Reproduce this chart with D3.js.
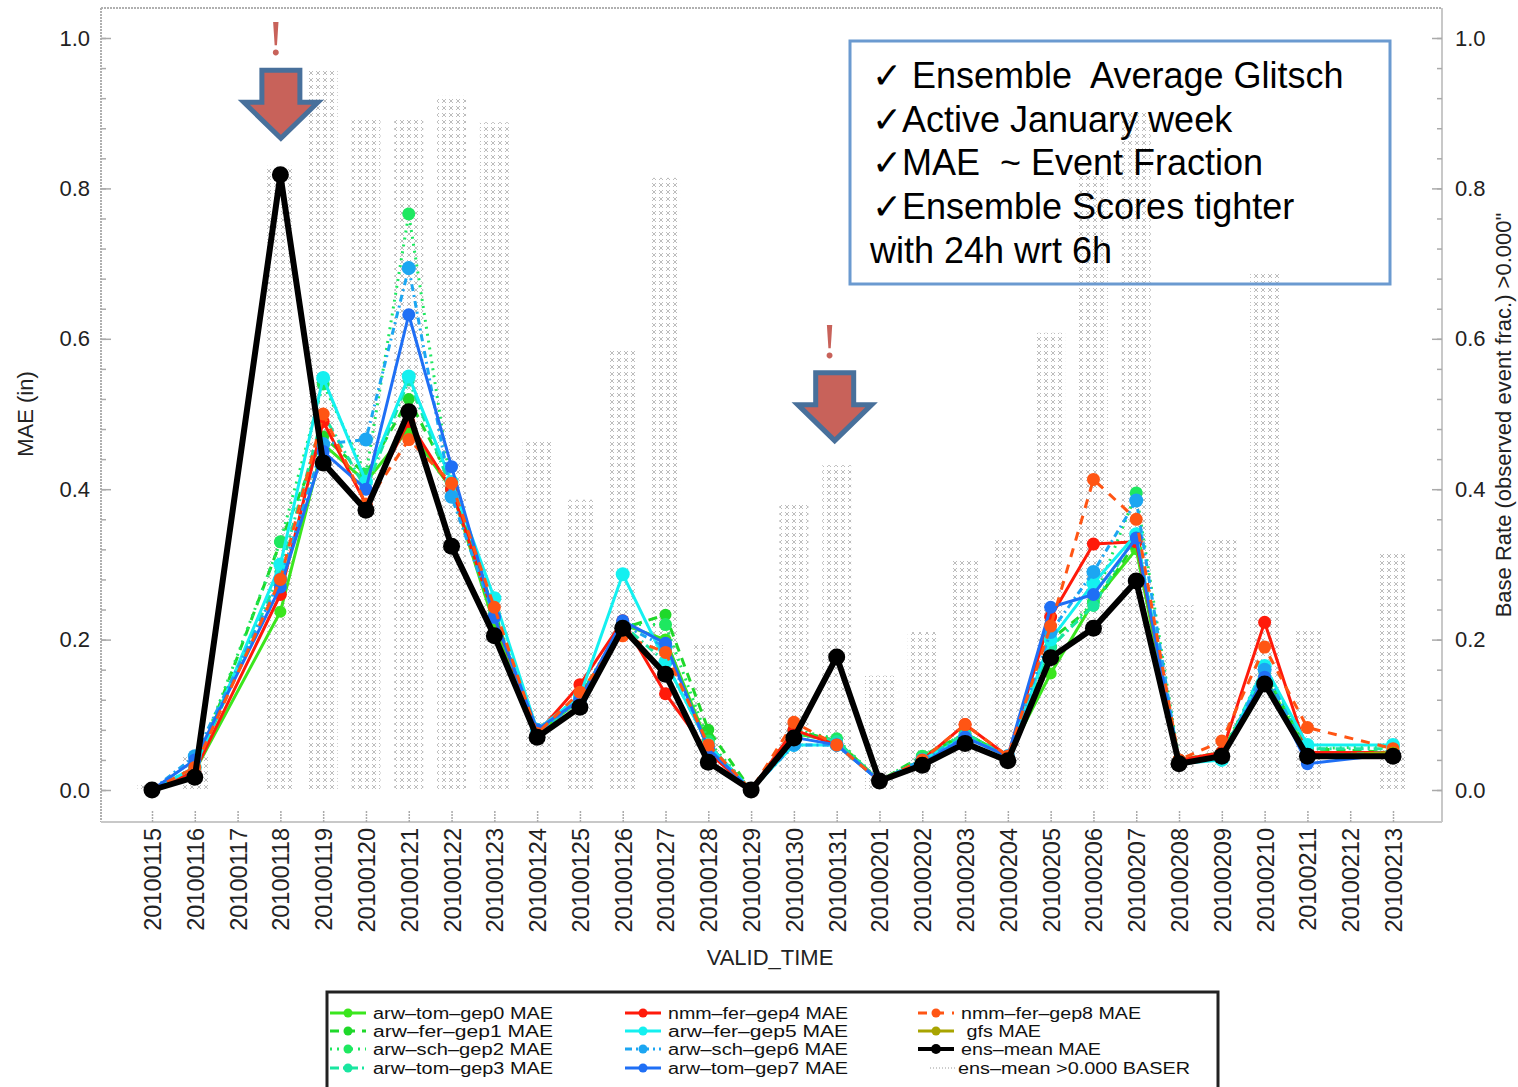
<!DOCTYPE html>
<html><head><meta charset="utf-8">
<script src="https://cdn.jsdelivr.net/npm/d3@7"></script>
<style>
html,body{margin:0;padding:0;background:#fff;}
svg{display:block;font-family:"Liberation Sans",Arial,Helvetica,sans-serif;}
text{white-space:pre;}
</style></head>
<body>
<svg id="chart" width="1518" height="1087"></svg>
<script>
const categories = ["20100115","20100116","20100117","20100118","20100119","20100120","20100121","20100122","20100123","20100124","20100125","20100126","20100127","20100128","20100129","20100130","20100131","20100201","20100202","20100203","20100204","20100205","20100206","20100207","20100208","20100209","20100210","20100211","20100212","20100213"];
const yTicks = [0, 0.2, 0.4, 0.6, 0.8, 1.0];

const baseRate = [0.01,0.045,null,0.83,0.957,0.894,0.894,0.923,0.888,0.463,0.386,0.586,0.814,0.193,null,0.379,0.432,0.152,0.21,0.305,0.336,0.608,0.82,0.904,0.246,0.336,0.69,0.215,null,0.315];

const gep0 = [0.0,0.025,null,0.237,0.46,0.41,0.48,0.40,0.22,0.075,0.12,0.22,0.20,0.06,0.0,0.075,0.065,0.012,0.04,0.075,0.045,0.155,0.25,0.32,0.035,0.05,0.15,0.05,null,0.05];
const gep1 = [0.0,0.025,null,0.33,0.47,0.42,0.52,0.41,0.235,0.075,0.125,0.215,0.233,0.08,0.0,0.08,0.065,0.012,0.045,0.075,0.045,0.20,0.245,0.33,0.04,0.05,0.155,0.055,null,0.05];
const gep2 = [0.0,0.03,null,0.33,0.54,0.42,0.766,0.40,0.23,0.08,0.125,0.22,0.22,0.065,0.0,0.08,0.068,0.012,0.045,0.075,0.045,0.19,0.25,0.395,0.04,0.05,0.16,0.055,null,0.058];
const gep3 = [0.0,0.028,null,0.29,0.50,0.40,0.545,0.40,0.235,0.075,0.12,0.22,0.17,0.06,0.0,0.075,0.065,0.012,0.04,0.075,0.045,0.19,0.245,0.34,0.04,0.045,0.165,0.055,null,0.055];
const gep4 = [0.0,0.025,null,0.26,0.49,0.38,0.49,0.40,0.23,0.075,0.14,0.225,0.128,0.05,0.0,0.08,0.06,0.012,0.04,0.087,0.045,0.23,0.327,0.33,0.04,0.05,0.223,0.05,null,0.05];
const gep5 = [0.0,0.03,null,0.30,0.548,0.41,0.55,0.41,0.255,0.08,0.125,0.287,0.17,0.06,0.0,0.06,0.06,0.012,0.04,0.07,0.045,0.20,0.275,0.34,0.035,0.04,0.165,0.06,null,0.06];
const gep6 = [0.0,0.045,null,0.28,0.46,0.466,0.694,0.39,0.23,0.075,0.12,0.22,0.19,0.055,0.0,0.06,0.06,0.012,0.04,0.07,0.045,0.21,0.29,0.385,0.035,0.045,0.16,0.045,null,0.05];
const gep7 = [0.0,0.04,null,0.27,0.45,0.40,0.632,0.43,0.23,0.08,0.12,0.225,0.195,0.055,0.0,0.07,0.06,0.012,0.035,0.07,0.045,0.243,0.26,0.335,0.035,0.045,0.15,0.035,null,0.048];
const gep8 = [0.0,0.03,null,0.28,0.50,0.38,0.466,0.408,0.243,0.075,0.13,0.205,0.183,0.06,0.0,0.09,0.06,0.012,0.04,0.087,0.045,0.218,0.413,0.36,0.04,0.065,0.19,0.083,null,0.055];
const gfs  = [null,null,null,null,null,null,null,null,null,null,null,null,null,null,null,null,null,null,null,null,null,null,null,null,null,null,null,0.045,null,0.05];
const ensMean = [0.0,0.017,null,0.818,0.435,0.372,0.503,0.324,0.205,0.07,0.11,0.215,0.154,0.037,0.0,0.069,0.177,0.012,0.033,0.062,0.039,0.176,0.215,0.278,0.035,0.045,0.141,0.045,null,0.045];

const seriesNames = ["arw\u2013tom\u2013gep0 MAE","arw\u2013fer\u2013gep1 MAE","arw\u2013sch\u2013gep2 MAE","arw\u2013tom\u2013gep3 MAE","nmm\u2013fer\u2013gep4 MAE","arw\u2013fer\u2013gep5 MAE","arw\u2013sch\u2013gep6 MAE","arw\u2013tom\u2013gep7 MAE","nmm\u2013fer\u2013gep8 MAE"," gfs MAE","ens\u2013mean MAE"];
const baseName = "ens\u2013mean >0.000 BASER";
const notes = ["\u2713 Ensemble  Average Glitsch","\u2713Active January week","\u2713MAE  ~ Event Fraction","\u2713Ensemble Scores tighter","with 24h wrt 6h"];

const seriesData = [gep0,gep1,gep2,gep3,gep4,gep5,gep6,gep7,gep8,gfs,ensMean];
const styles = [
  {c:"#3be61e", w:3, dash:null, r:6},
  {c:"#1fd82a", w:3, dash:"9,7", r:6},
  {c:"#1ee860", w:3, dash:"2,5", r:6.5},
  {c:"#19e6a0", w:3, dash:"9,4,2,4", r:6},
  {c:"#ff1a0a", w:3, dash:null, r:6.5},
  {c:"#14f0f0", w:3, dash:null, r:7},
  {c:"#1ca6f2", w:3, dash:"7,4,2,4", r:7},
  {c:"#1f6ff5", w:3, dash:null, r:6.5},
  {c:"#ff5514", w:3, dash:"9,8", r:6.5},
  {c:"#a8a400", w:3, dash:null, r:6},
  {c:"#000000", w:6, dash:null, r:8.5}
];

const svg = d3.select("#chart");
const x = d3.scalePoint().domain(categories).range([152,1393]);
const y = d3.scaleLinear().domain([0,1]).range([790,38]);
const L=101, R=1442, T=8, B=822;

const defs = svg.append("defs");
const pat = defs.append("pattern").attr("id","xh").attr("patternUnits","userSpaceOnUse").attr("width",7).attr("height",7);
pat.append("path").attr("d","M1,1L5,5M5,1L1,5").attr("stroke","#bdbdbd").attr("stroke-width",1).attr("fill","none");

svg.append("line").attr("x1",L).attr("x2",R).attr("y1",T).attr("y2",T).attr("stroke","#b0b0b0").attr("stroke-width",2).attr("stroke-dasharray","2,1");
svg.append("line").attr("x1",L).attr("x2",L).attr("y1",T).attr("y2",B).attr("stroke","#b0b0b0").attr("stroke-width",2).attr("stroke-dasharray","2,1");
svg.append("line").attr("x1",R).attr("x2",R).attr("y1",T).attr("y2",B).attr("stroke","#c8c8c8").attr("stroke-width",2);
svg.append("line").attr("x1",L).attr("x2",R).attr("y1",B).attr("y2",B).attr("stroke","#c8c8c8").attr("stroke-width",2);

const bw = 29;
svg.append("g").selectAll("rect").data(categories.map((c,i)=>({c,v:baseRate[i]})).filter(d=>d.v!=null))
  .join("rect").attr("x",d=>x(d.c)-bw/2).attr("y",d=>y(d.v)).attr("width",bw).attr("height",d=>y(0)-y(d.v)).attr("fill","url(#xh)");

function styleAxis(g){g.select(".domain").remove();g.selectAll("line").attr("stroke","#aaa").attr("stroke-width",1.5);g.selectAll("text").attr("font-size",22).attr("fill","#222").attr("font-family","'Liberation Sans',Arial,sans-serif");}
svg.append("g").attr("transform",`translate(${L},0)`).call(d3.axisLeft(y).tickValues(yTicks).tickFormat(d3.format(".1f")).tickSize(-10).tickPadding(11)).call(styleAxis);
svg.append("g").attr("transform",`translate(${R},0)`).call(d3.axisRight(y).tickValues(yTicks).tickFormat(d3.format(".1f")).tickSize(-10).tickPadding(13)).call(styleAxis);
const minor = d3.range(0,1.0001,0.04);
svg.append("g").attr("transform",`translate(${R},0)`).call(d3.axisRight(y).tickValues(minor).tickFormat("").tickSize(-5)).call(styleAxis);
svg.append("g").attr("transform",`translate(${L},0)`).call(d3.axisLeft(y).tickValues(minor).tickFormat("").tickSize(-5)).call(styleAxis);
const xa = svg.append("g").attr("transform",`translate(0,${B})`).call(d3.axisBottom(x).tickSize(-12)).call(styleAxis);
xa.selectAll("line").attr("stroke-dasharray","2,1");
xa.selectAll("text").attr("transform","rotate(-90)").attr("text-anchor","end").attr("x",-6).attr("y",0).attr("dy","0.36em").attr("font-size",23.5);

svg.append("text").attr("transform","translate(33,414) rotate(-90)").attr("text-anchor","middle").attr("font-size",22).attr("fill","#222").text("MAE (in)");
svg.append("text").attr("transform","translate(1511,415) rotate(-90)").attr("text-anchor","middle").attr("font-size",22).attr("fill","#222").text("Base Rate (observed event frac.) >0.000\"");
svg.append("text").attr("x",770).attr("y",965).attr("text-anchor","middle").attr("font-size",22).attr("fill","#222").text("VALID_TIME");

const line = d3.line().x(d=>x(d.c)).y(d=>y(d.v));
seriesData.forEach((arr,k)=>{
  const st = styles[k];
  const pts = categories.map((c,i)=>({c,v:arr[i]})).filter(d=>d.v!=null);
  const g = svg.append("g");
  g.append("path").datum(pts).attr("d",line).attr("fill","none").attr("stroke",st.c).attr("stroke-width",st.w)
    .attr("stroke-dasharray",st.dash).attr("stroke-linejoin","round");
  g.selectAll("circle").data(pts).join("circle").attr("cx",d=>x(d.c)).attr("cy",d=>y(d.v)).attr("r",st.r).attr("fill",st.c);
});

function arrow(cx, top){
  const p = d3.path();
  p.moveTo(cx-19,top); p.lineTo(cx+19,top); p.lineTo(cx+19,top+32); p.lineTo(cx+37,top+32);
  p.lineTo(cx,top+68); p.lineTo(cx-37,top+32); p.lineTo(cx-19,top+32); p.closePath();
  return p.toString();
}
const arrowsAt = ["20100118","20100131"];
const arrowTops = [0.957, 0.555];
arrowsAt.forEach((c,i)=>{
  const cx = x(c) + (i===0?0.5:-2);
  const top = y(arrowTops[i]);
  svg.append("path").attr("d",arrow(cx,top)).attr("fill","#c8625a").attr("stroke","#48709b").attr("stroke-width",5).attr("stroke-linejoin","miter");
  svg.append("text").attr("x",cx-5).attr("y",top-15).attr("text-anchor","middle").attr("font-size",50).attr("font-family","'Liberation Serif',serif").attr("fill","#c8625a").text("!");
});

svg.append("rect").attr("x",850).attr("y",41).attr("width",540).attr("height",243).attr("fill","none").attr("stroke","#6b9ad0").attr("stroke-width",3);
svg.append("g").selectAll("text").data(notes).join("text")
  .attr("x",(d,i)=>i===4?870:872).attr("y",(d,i)=>88+i*43.7).attr("font-size",36).attr("fill","#000").text(d=>d);

svg.append("rect").attr("x",327).attr("y",992).attr("width",891).attr("height",120).attr("fill","#fff").attr("stroke","#222").attr("stroke-width",3);
const colX = [330,625,918];
const rowY = [1013,1031,1049,1068];
const lg = svg.append("g");
seriesNames.forEach((name,k)=>{
  const col = Math.floor(k/4), row = k%4;
  const x0 = colX[col], yy = rowY[row], st = styles[k];
  lg.append("line").attr("x1",x0).attr("x2",x0+36).attr("y1",yy).attr("y2",yy).attr("stroke",st.c).attr("stroke-width",k===10?4:3).attr("stroke-dasharray",st.dash);
  lg.append("circle").attr("cx",x0+18).attr("cy",yy).attr("r",k===10?5:4.5).attr("fill",st.c);
  lg.append("text").attr("x",x0+43).attr("y",yy).attr("dy","0.35em").attr("font-size",16).attr("fill","#111")
    .attr("textLength", name.length>8 ? (k===10?140:180) : 80).attr("lengthAdjust","spacingAndGlyphs").text(name);
});
lg.append("line").attr("x1",930).attr("x2",955).attr("y1",1068).attr("y2",1068).attr("stroke","#ccc").attr("stroke-width",2).attr("stroke-dasharray","1,2");
lg.append("text").attr("x",958).attr("y",1068).attr("dy","0.35em").attr("font-size",16).attr("fill","#111").attr("textLength",232).attr("lengthAdjust","spacingAndGlyphs").text(baseName);
</script>
</body></html>
